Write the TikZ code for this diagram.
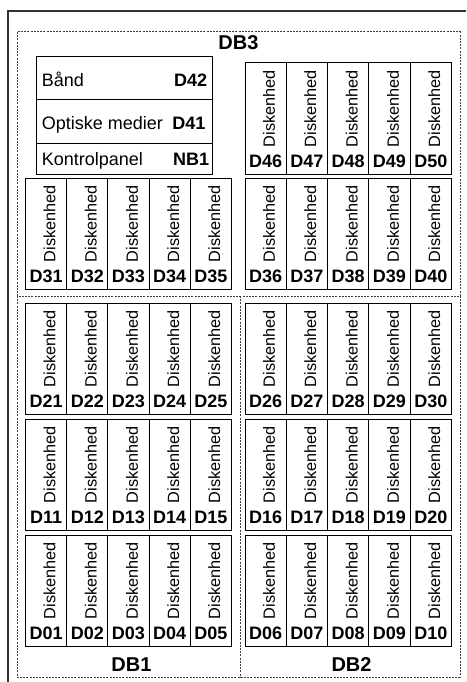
\documentclass[tikz,border=0pt]{standalone}
\usepackage{fontspec}
\setmainfont{Liberation Sans}
\tikzset{
  frameline/.style={draw=black!80, line width=1.1pt},
  dbline/.style={draw=black!75, line width=1pt, dash pattern=on 2pt off 1.2pt},
  diskbox/.style={draw=black, line width=1pt, minimum width=41.2pt, minimum height=111pt, inner sep=0pt},
  dlabel/.style={font=\bfseries\fontsize{18}{18}\selectfont, inner sep=0pt, anchor=base},
  dtext/.style={font=\fontsize{16.3}{16.3}\selectfont, inner sep=0pt, rotate=90},
  dblabel/.style={font=\bfseries\fontsize{20}{20}\selectfont, inner sep=0pt, anchor=base},
  prow/.style={draw=black, line width=1pt, minimum width=175.6pt, inner sep=0pt},
  ptext/.style={font=\fontsize{18}{18}\selectfont, inner sep=0pt, anchor=base west},
  pcode/.style={font=\bfseries\fontsize{18}{18}\selectfont, inner sep=0pt, anchor=base east},
}
\newcommand\diskunit[3]{%
  \node[diskbox] (d#1) at (#2+20.6, #3+55.5) {};
  \node[dlabel] (d#1l) at ([yshift=7.3pt]d#1.south) {D#1};
  \node[dtext] (d#1t) at ([xshift=3.5pt,yshift=-46pt]d#1.north) {Diskenhed};
}
\begin{document}
\begin{tikzpicture}[x=1pt,y=-1pt]
\useasboundingbox (0,0) rectangle (466,682);
% outer frame (top and left)
\coordinate (fa) at (466,11);
\coordinate (fb) at (8,11);
\coordinate (fc) at (8,682);
\draw[frameline] (fa) -- (fb) -- (fc);
% dashed regions
\coordinate (t1) at (17,32);
\coordinate (t2) at (460,296);
\coordinate (b1) at (17,296);
\coordinate (b2) at (17,677);
\coordinate (b3) at (460,677);
\coordinate (m1) at (240,296);
\coordinate (m2) at (240,677);
\draw[dbline] (t1) rectangle (t2);
\draw[dbline] (b1) -- (b2) -- (b3) -- (t2);
\draw[dbline] (m1) -- (m2);
% region labels
\node[dblabel] (db3) at (238.5,50) {DB3};
\node[dblabel] (db1) at (131.5,671) {DB1};
\node[dblabel] (db2) at (351.5,671) {DB2};
% panel
\node[prow, minimum height=43pt] (band) at (124.5,78.5) {};
\node[prow, minimum height=43pt] (optisk) at (124.5,121.5) {};
\node[prow, minimum height=31pt] (kontrol) at (124.5,158.5) {};
\node[ptext] (bandt) at (41.7,86.5) {Bånd};
\node[pcode] (bandc) at (207.3,86.5) {D42};
\node[ptext] (optiskt) at (41.7,129.3) {Optiske medier};
\node[pcode] (optiskc) at (205.5,129.3) {D41};
\node[ptext] (kontrolt) at (41.7,165.7) {Kontrolpanel};
\node[pcode] (kontrolc) at (209.3,165.7) {NB1};
% disks
\foreach \n [count=\i from 0] in {46,47,48,49,50} {\diskunit{\n}{245+41.3*\i}{63}}
\foreach \n [count=\i from 0] in {31,32,33,34,35} {\diskunit{\n}{25.5+41.2*\i}{178}}
\foreach \n [count=\i from 0] in {36,37,38,39,40} {\diskunit{\n}{245+41.3*\i}{178}}
\foreach \n [count=\i from 0] in {21,22,23,24,25} {\diskunit{\n}{25.5+41.2*\i}{303}}
\foreach \n [count=\i from 0] in {26,27,28,29,30} {\diskunit{\n}{245+41.3*\i}{303}}
\foreach \n [count=\i from 0] in {11,12,13,14,15} {\diskunit{\n}{25.5+41.2*\i}{419}}
\foreach \n [count=\i from 0] in {16,17,18,19,20} {\diskunit{\n}{245+41.3*\i}{419}}
\foreach \n [count=\i from 0] in {01,02,03,04,05} {\diskunit{\n}{25.5+41.2*\i}{535}}
\foreach \n [count=\i from 0] in {06,07,08,09,10} {\diskunit{\n}{245+41.3*\i}{535}}
\end{tikzpicture}
\end{document}
